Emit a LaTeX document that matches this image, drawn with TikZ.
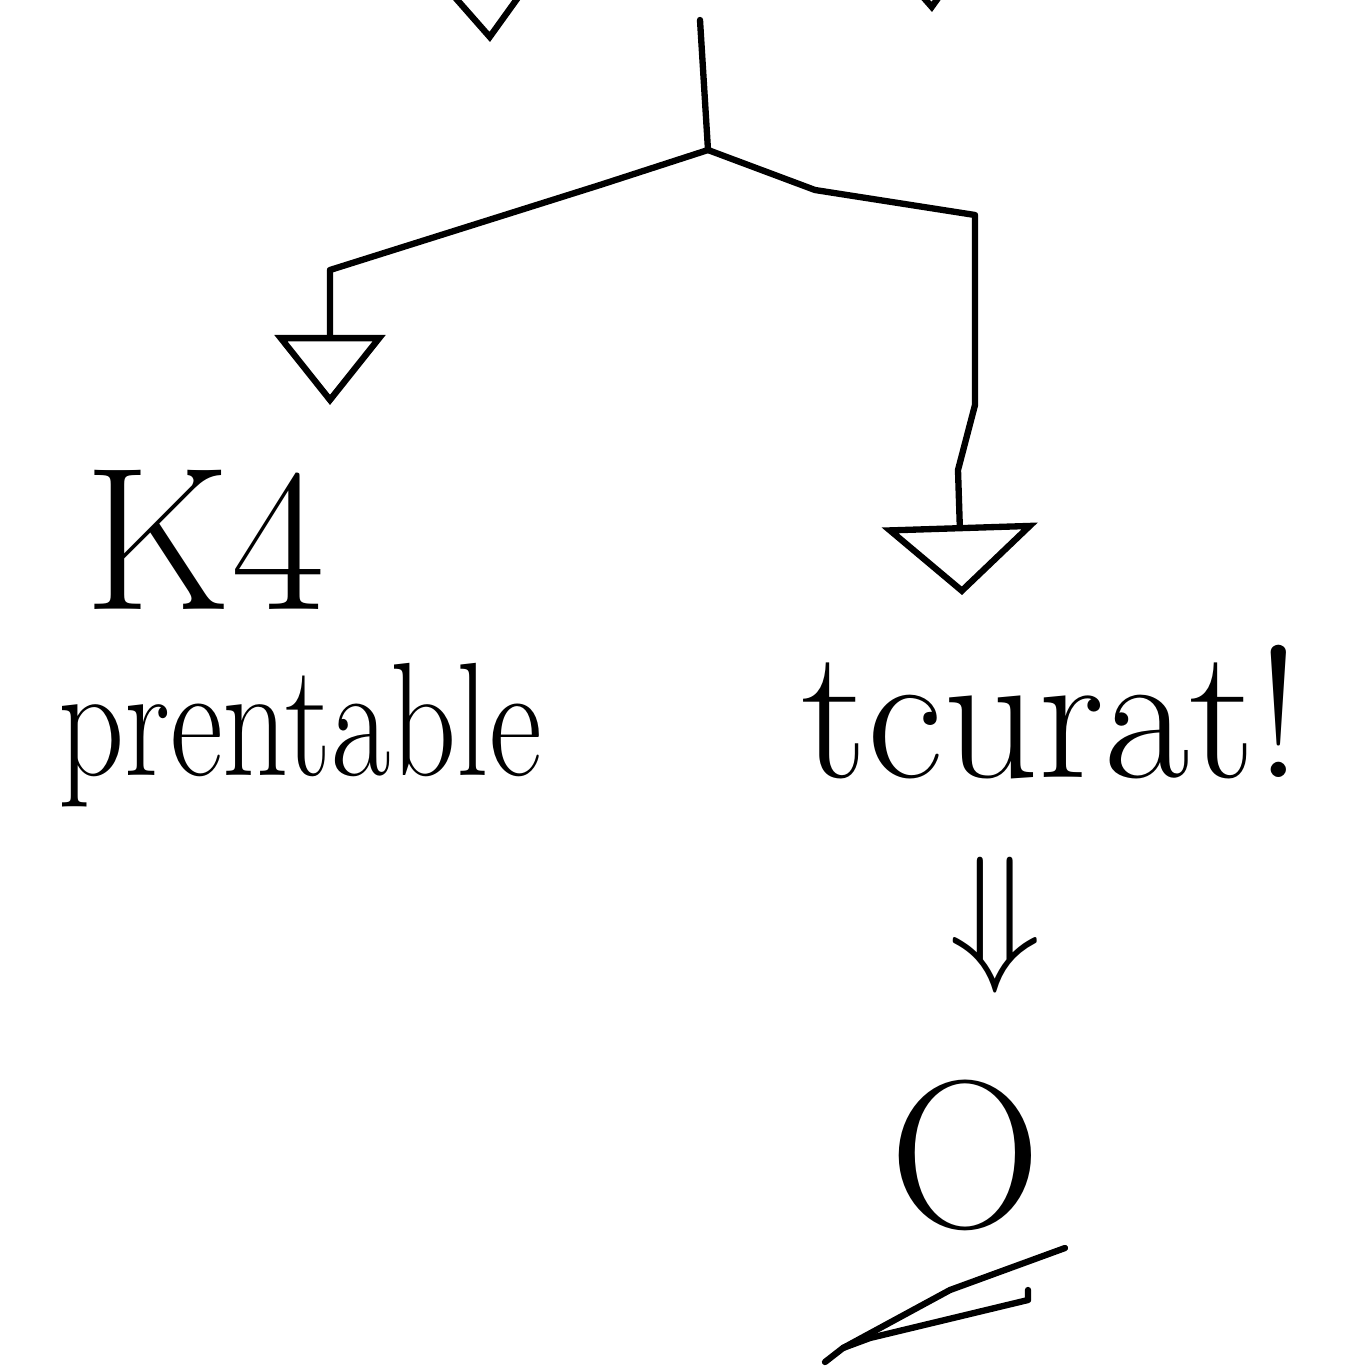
\documentclass[tikz,border=0pt]{standalone}
\usepackage{amsmath}
\usepackage{amssymb}
\usetikzlibrary{arrows.meta}
\tikzset{
	wire/.style   ={line width=1.8pt, line join=round, line cap=round},
	tipbig/.style ={wire, -{Triangle[open, width=1.1cm, length=0.7cm]}},
	tipwide/.style={wire, -{Triangle[open, width=1.55cm, length=0.7cm]}},
	hand/.style   ={inner sep=0pt, font=\fontsize{46}{50}\selectfont},
}

\begin{document}
\begin{tikzpicture}[x=0.01cm, y=-0.01cm]
	\useasboundingbox (0,0) rectangle (1347,1369);
	\clip (0,0) rectangle (1347,1369);
	% arrows coming in from above
	\coordinate (inl) at (490,42);
	\coordinate (inr) at (932,12);
	\draw[tipbig] (484,-80) -- (inl);
	\draw[tipbig] (926,-110) -- (inr);
	% split
	\coordinate (src) at (700,20);
	\coordinate (split) at (708,150);
	\coordinate (lend) at (330,405);
	\coordinate (rend) at (962,595);
	\draw[wire] (src) -- (split);
	\draw[tipbig] (split) -- (600,185) -- (330,270) -- (lend);
	\draw[tipwide] (split) -- (815,190) -- (975,215) -- (975,405) -- (958,470) -- (rend);
	% labels
	\node[hand, font=\fontsize{58}{60}\selectfont] (kfour) at (205,540) {K4};
	\node[hand, xscale=0.8] (prent) at (300,735) {prentable};
	\node[hand, font=\fontsize{53}{56}\selectfont] (curat) at (1052,712) {tcurat!};
	\node[hand, scale=1.75] (impl) at (995,925) {$\Downarrow$};
	\node[hand, font=\fontsize{60}{62}\selectfont] (zero) at (965,1155) {O};
	% double stroke under the O
	\draw[wire] (1065,1248) -- (950,1290) -- (843,1348) -- (825,1362);
	\draw[wire] (1028,1290) -- (1028,1300) -- (870,1338) -- (843,1348);
\end{tikzpicture}
\end{document}
